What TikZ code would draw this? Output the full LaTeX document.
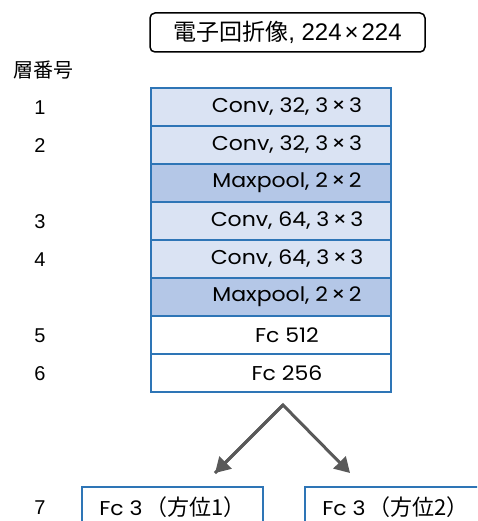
\documentclass[tikz,border=0pt]{standalone}
\usepackage{fontspec}
\setmainfont{Poppins}[FakeStretch=1.1]
\newfontfamily\cjk{Noto Sans CJK JP}
\newfontfamily\arial{Liberation Sans}
\usetikzlibrary{arrows.meta}
\definecolor{edgeblue}{HTML}{2E75B6}
\definecolor{convfill}{HTML}{DAE3F3}
\definecolor{poolfill}{HTML}{B4C7E7}
\definecolor{arrowgray}{HTML}{595959}
\newcommand{\tms}{\,×\,}
\tikzset{
  layerbox/.style={draw=edgeblue, line width=2pt, minimum width=240pt, minimum height=38pt, inner sep=0pt,
    font=\fontsize{20}{22}\selectfont},
  conv/.style={layerbox, fill=convfill},
  pool/.style={layerbox, fill=poolfill},
  fc/.style={layerbox, fill=white},
  outbox/.style={draw=edgeblue, line width=2pt, minimum width=181pt, minimum height=40pt, inner sep=0pt,
    font=\fontsize{20}{22}\selectfont},
  num/.style={font=\arial\fontsize{20}{22}\selectfont, inner sep=0pt},
  arr/.style={draw=arrowgray, line width=3pt, -{Triangle[length=15pt,width=17pt]}},
}
\begin{document}
\begin{tikzpicture}[x=1pt,y=-1pt]
\useasboundingbox (0,0) rectangle (477,521);
\clip (0,0) rectangle (477,521);
\fill[white] (0,0) rectangle (477,521);
% input
\node[draw=black, line width=1.5pt, rounded corners=5pt, minimum width=275pt, minimum height=39pt, inner sep=0pt]
  (input) at (287.5,32.5) {\cjk\fontsize{23}{24}\selectfont 電子回折像{\arial\fontsize{24}{25}\selectfont, 224\hspace{3pt}×\hspace{3pt}224}};
\node[font=\cjk\fontsize{20}{22}\selectfont, inner sep=0pt] (hdr) at (43,70) {層番号};
% stack
\node[conv] (l1) at (271,107) {\hspace*{32pt}Conv, 32, 3\tms 3};
\node[conv] (l2) at (271,145) {\hspace*{32pt}Conv, 32, 3\tms 3};
\node[pool] (p1) at (271,183) {\hspace*{32pt}Maxpool, 2\tms 2};
\node[conv] (l3) at (271,221) {\hspace*{32pt}Conv, 64, 3\tms 3};
\node[conv] (l4) at (271,259) {\hspace*{32pt}Conv, 64, 3\tms 3};
\node[pool] (p2) at (271,297) {\hspace*{32pt}Maxpool, 2\tms 2};
\node[fc] (l5) at (271,335) {\hspace*{32pt}Fc 512};
\node[fc] (l6) at (271,373) {\hspace*{32pt}Fc 256};
% numbers
\node[num] (n1) at (40,108) {1};
\node[num] (n2) at (40,146) {2};
\node[num] (n3) at (40,222) {3};
\node[num] (n4) at (40,260) {4};
\node[num] (n5) at (40,336) {5};
\node[num] (n6) at (40,374) {6};
\node[num] (n7) at (40,508) {7};
% outputs
\node[outbox] (o1) at (172.5,507) {Fc 3\hspace{3pt}{\cjk\fontsize{22}{22}\selectfont（方位1）}};
\node[outbox] (o2) at (395.5,507) {Fc 3\hspace{3pt}{\cjk\fontsize{22}{22}\selectfont（方位2）}};
% arrows
\coordinate (apex) at (283,405);
\coordinate (t1) at (215,473);
\coordinate (t2) at (350,473);
\draw[arr, line join=miter] (t1) -- (apex) -- (t2);
\draw[arr] (apex) -- (t1);
\end{tikzpicture}
\end{document}
